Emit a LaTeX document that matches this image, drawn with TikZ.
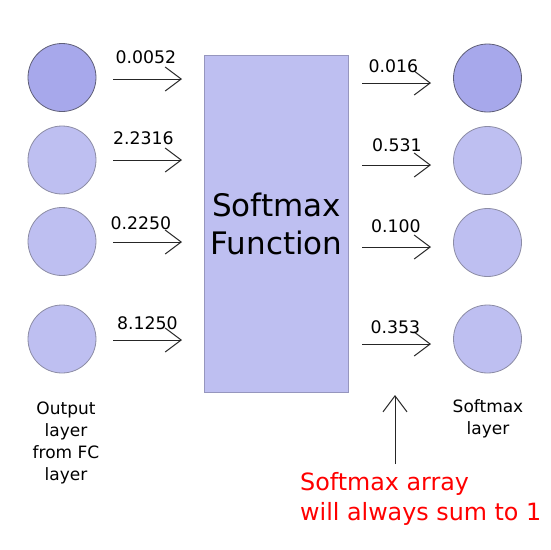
\documentclass[tikz,border=0pt]{standalone}
\usepackage{fontspec}
\setmainfont{DejaVu Sans}
\usetikzlibrary{arrows.meta}
\definecolor{lightfill}{RGB}{190,191,241}
\definecolor{darkfill}{RGB}{167,168,235}
\definecolor{darkedge}{RGB}{95,95,120}
\definecolor{lightedge}{RGB}{140,140,165}
\definecolor{boxedge}{RGB}{150,150,190}
\definecolor{redtext}{RGB}{255,0,0}
\tikzset{
  neuron/.style={circle, draw=lightedge, fill=lightfill, line width=0.8pt, minimum size=68pt, inner sep=0pt},
  darkneuron/.style={neuron, draw=darkedge, fill=darkfill},
  smbox/.style={rectangle, draw=boxedge, fill=lightfill, line width=0.8pt, minimum width=144pt, minimum height=337pt, inner sep=0pt, align=center, font=\fontsize{31}{38}\selectfont},
  flow/.style={draw=black!85, line width=1pt, -{Straight Barb[length=16pt, width=24pt, line width=1pt]}},
  val/.style={anchor=base, inner sep=0pt, font=\fontsize{17.3}{20}\selectfont},
  caption/.style={anchor=north, inner sep=0pt, align=center, font=\fontsize{17}{22}\selectfont},
  note/.style={anchor=north west, inner sep=0pt, align=left, text=redtext, font=\fontsize{23.8}{30}\selectfont}
}
\begin{document}
\begin{tikzpicture}[x=1pt,y=-1pt]
\useasboundingbox[fill=white] (0,0) rectangle (550,550);
% left neurons
\node[darkneuron] (l1) at (62,77.5) {};
\node[neuron] (l2) at (62,160) {};
\node[neuron] (l3) at (62,241.5) {};
\node[neuron] (l4) at (62,339) {};
% right neurons
\node[darkneuron] (r1) at (487.5,78) {};
\node[neuron] (r2) at (487.5,160.5) {};
\node[neuron] (r3) at (487.5,242.5) {};
\node[neuron] (r4) at (487.5,339) {};
% softmax box
\node[smbox] (sm) at (276.5,223.5) {Softmax\\Function};
% arrow endpoints
\coordinate (a1s) at (113,79);  \coordinate (a1e) at (182,79);
\coordinate (a2s) at (113,160); \coordinate (a2e) at (182,160);
\coordinate (a3s) at (113,242); \coordinate (a3e) at (182,242);
\coordinate (a4s) at (113,340); \coordinate (a4e) at (182,340);
\coordinate (b1s) at (362,83);  \coordinate (b1e) at (431,83);
\coordinate (b2s) at (362,165); \coordinate (b2e) at (431,165);
\coordinate (b3s) at (362,247); \coordinate (b3e) at (431,247);
\coordinate (b4s) at (362,344); \coordinate (b4e) at (431,344);
\coordinate (vs) at (395,464);  \coordinate (ve) at (395,395);
\draw[flow] (a1s) -- (a1e);
\draw[flow] (a2s) -- (a2e);
\draw[flow] (a3s) -- (a3e);
\draw[flow] (a4s) -- (a4e);
\draw[flow] (b1s) -- (b1e);
\draw[flow] (b2s) -- (b2e);
\draw[flow] (b3s) -- (b3e);
\draw[flow] (b4s) -- (b4e);
\draw[flow] (vs) -- (ve);
% values
\node[val] (v1) at (146,63) {0.0052};
\node[val] (v2) at (143.5,144) {2.2316};
\node[val] (v3) at (141,229) {0.2250};
\node[val] (v4) at (147.5,329) {8.1250};
\node[val] (w1) at (393.5,72) {0.016};
\node[val] (w2) at (397,151) {0.531};
\node[val] (w3) at (396,232) {0.100};
\node[val] (w4) at (395.5,333) {0.353};
% captions
\node[caption] (lcap) at (66,401.5) {Output\\layer\\from FC\\layer};
\node[caption] (rcap) at (488,399.5) {Softmax\\layer};
\node[note] (sumnote) at (300,472.5) {Softmax array\\will always sum to 1};
\end{tikzpicture}
\end{document}
